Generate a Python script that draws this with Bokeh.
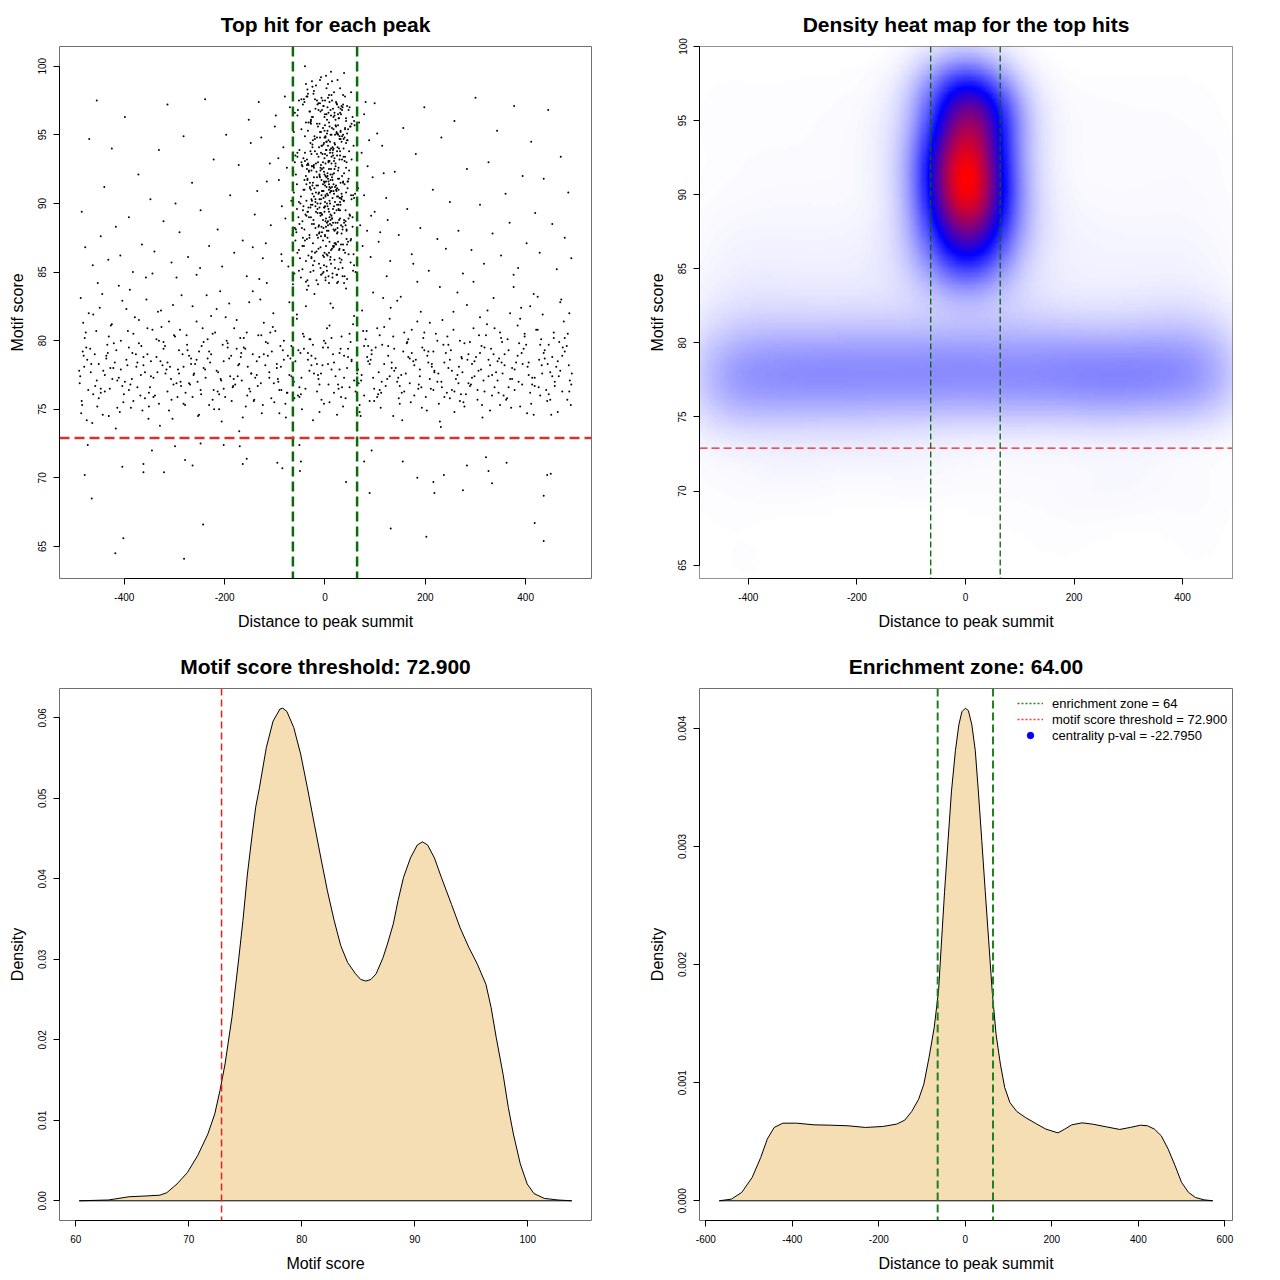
import numpy as np
from bokeh.plotting import figure
from bokeh.layouts import gridplot
from bokeh.models import (Range1d, FixedTicker, CustomJSTickFormatter, Span,
                          Legend, LegendItem, LinearColorMapper)
from bokeh.embed import file_html
from bokeh.resources import INLINE

FONT = "Liberation Sans"
ENRICH_ZONE = 64
SCORE_THRESHOLD = 72.9

# ---------------- scatter data (distance to summit, motif score) ----------------
# background band of hits (set 1)
bg_x = [
    -490, -484, -477, -481, -472, -487, -475,
    -468, -455, -462, -451, -466, -458, -453,
    -447, -436, -443, -431, -439, -449, -433,
    -428, -414, -421, -411, -425, -417, -429,
    -407, -393, -401, -396, -409, -391, -404,
    -388, -374, -382, -371, -385, -377, -389,
    -366, -352, -359, -368, -354, -362, -351,
    -347, -333, -342, -336, -349, -331, -344,
    -328, -314, -322, -311, -326, -318, -329,
    -306, -293, -301, -309, -296, -303, -291,
    -288, -275, -282, -271, -286, -278, -289,
    -267, -253, -261, -256, -269, -251, -264,
    -248, -234, -242, -231, -246, -238, -249,
    -227, -213, -221, -216, -229, -211, -224,
    -208, -194, -202, -191, -206, -198, -209,
    -186, -173, -181, -189, -176, -183, -171,
    -168, -155, -162, -151, -166, -158, -169,
    -147, -133, -141, -136, -149, -131, -144,
    -128, -114, -122, -111, -126, -118, -129,
    -106, -93, -101, -109, -96, -103, -91,
    -88, -75, -82, -71, -86, -78, -89,
    -67, -53, -61, -56, -69, -51, -64,
    -48, -34, -42, -31, -46, -38, -49,
    -27, -13, -21, -16, -29, -11, -24,
    -8, 6, -2, 9, -5, 1, 7,
    13, 27, 18, 24, 11, 29, 16,
    32, 46, 38, 49, 34, 42, 31,
    53, 67, 58, 64, 51, 69, 56,
    72, 86, 78, 89, 74, 83, 71,
    93, 107, 98, 104, 91, 109, 96,
    112, 126, 118, 129, 114, 123, 111,
    133, 147, 138, 144, 131, 149, 136,
    152, 166, 158, 169, 154, 163, 151,
    173, 187, 178, 184, 171, 189, 176,
    192, 206, 198, 209, 194, 203, 191,
    213, 227, 218, 224, 211, 229, 216,
    232, 246, 238, 249, 234, 243, 231,
    253, 267, 258, 264, 251, 269, 256,
    272, 286, 278, 289, 274, 283, 271,
    293, 307, 298, 304, 291, 309, 296,
    312, 326, 318, 329, 314, 323, 311,
    333, 347, 338, 344, 331, 349, 336,
    352, 366, 358, 369, 354, 363, 351,
    373, 387, 378, 384, 371, 389, 376,
    392, 406, 398, 409, 394, 403, 391,
    413, 427, 418, 424, 411, 429, 416,
    432, 446, 438, 449, 434, 443, 431,
    453, 467, 458, 464, 451, 469, 456,
    473, 487, 478, 492, 474, 483, 471,
]
bg_y = [
    77.8, 75.3, 80.6, 78.9, 76.4, 83.1, 74.2,
    79.4, 77.1, 81.9, 75.8, 78.3, 76.7, 84.2,
    76.2, 78.7, 74.6, 80.3, 77.5, 82.4, 79.1,
    78.0, 75.1, 79.8, 77.3, 81.2, 73.6, 76.5,
    77.9, 80.7, 76.1, 78.6, 74.8, 79.5, 82.9,
    76.8, 78.4, 75.6, 81.5, 77.2, 79.0, 83.7,
    79.6, 74.3, 77.7, 76.0, 80.9, 78.2, 75.2,
    77.4, 82.1, 75.9, 78.8, 76.6, 80.0, 84.9,
    78.5, 76.3, 79.9, 74.9, 81.0, 77.6, 73.8,
    75.7, 77.9, 80.4, 78.1, 76.9, 82.6, 79.3,
    77.0, 79.7, 75.4, 78.9, 83.3, 76.2, 80.8,
    78.3, 74.5, 77.6, 81.4, 76.8, 79.2, 75.9,
    76.4, 80.1, 78.0, 75.3, 79.6, 77.3, 85.3,
    79.0, 77.7, 75.0, 82.3, 78.4, 76.1, 80.5,
    77.2, 79.8, 76.5, 78.7, 74.1, 81.7, 83.6,
    75.6, 78.2, 80.9, 77.4, 79.4, 76.7, 73.4,
    78.8, 76.0, 79.5, 82.8, 77.1, 75.2, 80.2,
    77.6, 80.4, 75.7, 78.5, 76.3, 84.5, 79.0,
    76.9, 78.9, 81.3, 77.3, 74.7, 79.9, 83.0,
    79.2, 77.0, 75.5, 80.6, 78.3, 82.0, 76.4,
    78.1, 76.2, 80.0, 77.5, 85.8, 74.4, 79.6,
    77.4, 79.3, 75.8, 81.6, 78.7, 76.6, 84.1,
    76.1, 78.6, 80.3, 77.8, 75.0, 82.5, 79.1,
    78.9, 77.2, 83.4, 76.3, 80.1, 74.8, 79.7,
    77.6, 79.5, 75.4, 81.1, 78.2, 84.4, 76.8,
    80.2, 76.5, 78.4, 74.6, 82.7, 77.9, 79.0,
    75.9, 78.8, 77.3, 80.5, 76.6, 83.8, 79.4,
    78.5, 76.9, 81.8, 77.6, 79.9, 75.3, 85.1,
    77.1, 79.6, 76.0, 78.3, 82.2, 80.7, 74.5,
    79.3, 77.7, 75.6, 80.9, 78.6, 76.4, 83.5,
    76.2, 78.9, 81.0, 77.4, 79.7, 84.7, 75.1,
    78.0, 75.8, 79.4, 77.0, 82.4, 76.7, 80.3,
    77.5, 80.1, 76.3, 78.7, 74.2, 79.8, 83.2,
    79.1, 76.8, 78.2, 81.4, 75.5, 77.9, 85.6,
    76.6, 78.4, 80.6, 77.2, 79.5, 74.9, 82.1,
    78.3, 75.4, 77.8, 80.0, 76.5, 83.9, 79.2,
    77.0, 79.7, 75.9, 78.6, 81.5, 76.2, 73.7,
    76.4, 78.1, 74.8, 77.5, 79.3, 75.6, 80.8,
    78.8, 76.9, 75.2, 79.9, 77.7, 82.6, 76.1,
    77.3, 80.4, 78.5, 75.7, 76.8, 79.1, 84.3,
    79.6, 77.4, 76.3, 78.2, 74.4, 81.2, 77.9,
    76.0, 78.7, 80.9, 77.1, 79.4, 75.3, 83.1,
    78.4, 76.6, 79.0, 82.0, 77.6, 75.8, 80.2,
    77.2, 79.8, 76.4, 78.9, 75.1, 81.6, 84.8,
    79.1, 77.5, 80.5, 76.2, 78.3, 74.7, 82.4,
    76.8, 78.6, 77.3, 80.8, 75.4, 79.7, 83.4,
    78.2, 76.1, 79.3, 77.7, 81.9, 75.6, 80.1,
    77.4, 79.9, 76.7, 78.5, 74.6, 82.8, 80.6,
    78.9, 76.3, 80.2, 77.6, 79.5, 75.7, 83.0,
]
# background band of hits (set 2)
bg2_x = [
    -489, -483, -486, -480, -482, -488, -485,
    -474, -462, -479, -467, -464, -471, -476,
    -454, -442, -459, -447, -444, -451, -456,
    -434, -422, -439, -427, -424, -431, -436,
    -414, -402, -419, -407, -404, -411, -416,
    -394, -382, -399, -387, -384, -391, -396,
    -374, -362, -379, -367, -364, -371, -376,
    -354, -342, -359, -347, -344, -351, -356,
    -334, -322, -339, -327, -324, -331, -336,
    -314, -302, -319, -307, -304, -311, -316,
    -294, -282, -299, -287, -284, -291, -296,
    -274, -262, -279, -267, -264, -271, -276,
    -254, -242, -259, -247, -244, -251, -256,
    -234, -222, -239, -227, -224, -231, -236,
    -214, -202, -219, -207, -204, -211, -216,
    -194, -182, -199, -187, -184, -191, -196,
    -174, -162, -179, -167, -164, -171, -176,
    -154, -142, -159, -147, -144, -151, -156,
    -134, -122, -139, -127, -124, -131, -136,
    -114, -102, -119, -107, -104, -111, -116,
    -94, -82, -99, -87, -84, -91, -96,
    -74, -62, -79, -67, -64, -71, -76,
    -54, -42, -59, -47, -44, -51, -56,
    -34, -22, -39, -27, -24, -31, -36,
    -14, -2, -19, -7, -4, -11, -16,
    6, 18, 1, 13, 16, 9, 4,
    26, 38, 21, 33, 36, 29, 24,
    46, 58, 41, 53, 56, 49, 44,
    66, 78, 61, 73, 76, 69, 64,
    86, 98, 81, 93, 96, 89, 84,
    106, 118, 101, 113, 116, 109, 104,
    126, 138, 121, 133, 136, 129, 124,
    146, 158, 141, 153, 156, 149, 144,
    166, 178, 161, 173, 176, 169, 164,
    186, 198, 181, 193, 196, 189, 184,
    206, 218, 201, 213, 216, 209, 204,
    226, 238, 221, 233, 236, 229, 224,
    246, 258, 241, 253, 256, 249, 244,
    266, 278, 261, 273, 276, 269, 264,
    286, 298, 281, 293, 296, 289, 284,
    306, 318, 301, 313, 316, 309, 304,
    326, 338, 321, 333, 336, 329, 324,
    346, 358, 341, 353, 356, 349, 344,
    366, 378, 361, 373, 376, 369, 364,
    386, 398, 381, 393, 396, 389, 384,
    406, 418, 401, 413, 416, 409, 404,
    426, 438, 421, 433, 436, 429, 424,
    446, 458, 441, 453, 456, 449, 444,
    466, 478, 461, 473, 476, 469, 464,
    486, 491, 482, 488, 484, 490, 487,
]
bg2_y = [
    76.9, 79.2, 74.7, 78.1, 81.3, 77.4, 75.6,
    78.6, 76.1, 80.2, 77.7, 74.0, 82.0, 79.5,
    75.2, 77.8, 79.0, 76.5, 83.4, 78.3, 80.7,
    79.7, 78.0, 76.3, 81.1, 77.2, 74.5, 78.9,
    77.1, 75.5, 78.4, 80.0, 76.7, 84.0, 79.3,
    78.2, 80.5, 77.0, 75.1, 79.1, 76.4, 82.3,
    76.6, 78.8, 81.7, 77.5, 74.9, 79.8, 78.1,
    79.0, 77.3, 75.8, 78.5, 80.8, 76.2, 83.0,
    77.7, 79.4, 76.0, 82.2, 78.2, 75.4, 80.1,
    78.4, 76.8, 79.6, 77.2, 74.3, 81.4, 77.9,
    75.9, 78.1, 80.3, 76.7, 79.0, 77.6, 84.6,
    79.3, 77.5, 75.3, 78.7, 82.5, 76.9, 80.4,
    77.0, 79.9, 78.3, 76.1, 80.9, 74.6, 78.6,
    78.7, 76.4, 77.9, 81.8, 75.7, 79.2, 83.3,
    76.3, 78.5, 80.6, 77.1, 79.7, 75.0, 77.8,
    79.5, 77.2, 75.9, 78.9, 76.6, 82.7, 80.0,
    77.4, 80.2, 76.8, 79.1, 74.4, 78.3, 81.5,
    78.1, 75.6, 79.4, 77.6, 83.6, 76.5, 80.6,
    76.7, 79.0, 77.3, 80.4, 75.3, 78.8, 77.5,
    79.8, 76.9, 78.2, 75.8, 81.0, 77.7, 84.2,
    77.2, 78.6, 80.7, 76.4, 79.3, 74.7, 78.0,
    78.9, 77.0, 75.4, 79.6, 77.8, 82.8, 76.2,
    76.0, 79.4, 78.5, 77.3, 80.5, 75.9, 81.9,
    79.1, 77.6, 76.5, 78.2, 74.2, 80.1, 83.7,
    77.5, 80.0, 78.7, 75.7, 79.5, 76.8, 78.3,
    78.3, 76.2, 79.8, 77.9, 82.4, 75.5, 80.9,
    76.8, 78.9, 77.4, 80.3, 75.2, 79.1, 84.8,
    79.4, 77.1, 75.8, 78.6, 81.2, 76.6, 78.0,
    77.9, 79.6, 76.3, 77.5, 80.7, 74.8, 82.6,
    78.5, 76.5, 80.1, 79.0, 77.3, 75.6, 78.8,
    76.1, 78.3, 79.5, 77.0, 83.1, 80.4, 75.9,
    79.6, 77.8, 76.7, 78.4, 74.5, 81.6, 77.2,
    77.3, 80.6, 78.0, 76.2, 79.2, 75.4, 82.9,
    78.8, 76.0, 77.6, 80.8, 78.5, 76.9, 79.9,
    76.5, 79.3, 78.6, 75.1, 80.2, 77.4, 84.3,
    79.2, 77.7, 75.9, 78.1, 76.4, 81.3, 78.9,
    77.6, 78.4, 80.5, 76.6, 79.7, 74.1, 77.0,
    78.0, 76.3, 79.1, 77.8, 82.1, 75.8, 80.3,
    76.9, 79.8, 77.2, 78.7, 75.5, 80.0, 83.5,
    79.0, 77.4, 76.1, 78.3, 80.9, 76.7, 78.6,
    77.8, 79.5, 78.8, 75.3, 77.1, 81.7, 76.4,
    78.6, 76.6, 80.4, 77.5, 79.0, 74.9, 82.2,
    76.2, 78.2, 77.7, 79.9, 76.0, 80.6, 78.5,
    79.3, 77.9, 75.7, 78.0, 83.9, 77.2, 80.1,
    77.0, 80.3, 78.4, 76.8, 79.4, 75.2, 81.1,
    78.4, 76.7, 79.7, 77.3, 74.6, 82.5, 78.1,
    76.6, 78.7, 80.8, 77.6, 79.1, 76.0, 83.2,
    79.7, 77.0, 76.4, 78.8, 80.2, 75.7, 78.3,
    77.4, 79.2, 78.1, 76.3, 81.4, 77.8, 74.8,
    78.2, 76.8, 79.6, 77.1, 80.5, 75.3, 82.0,
]
# sparse high-scoring hits away from the summit
hi_x = [
    -485, -478, -470, -463, -455, -447, -440, -432,
    -425, -417, -408, -399, -391, -383, -372, -365,
    -357, -348, -340, -331, -322, -314, -306, -298,
    -290, -282, -273, -265, -256, -248, -239, -231,
    -222, -214, -205, -197, -189, -181, -172, -164,
    -156, -148, -140, -132, -124, -116, -108, -100,
    -93, -86, -80,
    78, 85, 92, 99, 107, 114, 122, 130,
    139, 147, 156, 164, 173, 181, 190, 198,
    207, 215, 224, 232, 241, 249, 258, 266,
    275, 283, 292, 300, 309, 317, 326, 334,
    343, 351, 360, 368, 377, 385, 394, 402,
    411, 419, 428, 436, 445, 453, 462, 470,
    478, 485, 491,
]
hi_y = [
    89.4, 86.8, 94.7, 85.5, 97.5, 87.6, 91.2, 85.9,
    94.0, 88.3, 86.2, 96.3, 89.0, 85.0, 92.1, 87.0,
    84.6, 90.3, 86.5, 93.9, 88.7, 97.2, 85.7, 90.0,
    87.9, 94.9, 86.1, 91.5, 84.8, 89.5, 97.6, 86.9,
    93.2, 88.1, 85.4, 95.0, 90.6, 86.4, 92.8, 87.3,
    84.7, 94.4, 89.2, 97.4, 86.0, 91.6, 88.4, 95.6,
    93.3, 89.8, 97.8,
    96.5, 92.7, 89.1, 97.3, 87.2, 94.2, 90.4, 85.8,
    92.3, 87.7, 95.5, 89.6, 86.3, 93.6, 88.2, 97.0,
    85.1, 91.0, 87.4, 94.8, 86.7, 90.1, 96.0, 88.0,
    84.9, 92.5, 86.6, 97.7, 89.9, 85.6, 93.0, 87.8,
    95.3, 86.2, 90.7, 88.6, 97.1, 85.3, 92.0, 87.1,
    94.5, 89.3, 86.4, 91.8, 96.8, 88.5, 85.2, 93.4,
    87.5, 90.8, 86.0,
]
# flanks of the central cluster
fl_x = [
    -98, -92, -87, -83, -79, -76, -73, -70,
    -67, -65, -62, -60, -58, -56, -54, -52,
    66, 68, 70, 73, 75, 78, 81, 84,
    88, 91, 95, 99, 104, 110, 117, 125,
    -110, -118, -127, -135, -144, -152,
]
fl_y = [
    96.4, 91.7, 86.3, 94.1, 88.9, 92.6, 85.4, 97.0,
    90.2, 87.7, 95.2, 93.0, 88.1, 91.4, 96.8, 86.6,
    91.1, 95.9, 88.4, 93.7, 86.9, 90.6, 97.4, 88.0,
    94.6, 86.1, 91.9, 89.4, 95.1, 87.9, 92.2, 88.8,
    92.9, 87.1, 94.8, 90.9, 86.8, 96.1,
]
# low-scoring hits below the threshold
lo_x = [
    -479, -473, -465, -418, -402, -404, -362, -362, -345, -321,
    -299, -279, -264, -281, -243, -248, -202, -170, -164, -156,
    -95, -85, -51, -48, -50, 42, 89, 131, 202, 184,
    216, 218, 237, 275, 283, 321, 326, 333, 362, 418,
    436, 436, 443, 450, 155, 78, 93,
]
lo_y = [
    70.2, 72.4, 68.5, 64.5, 65.6, 70.8, 71.0, 70.4, 72.0, 70.4,
    72.3, 71.3, 70.9, 64.1, 66.6, 72.5, 72.4, 72.3, 71.0, 71.4,
    71.1, 70.7, 72.4, 71.2, 70.5, 69.7, 68.9, 66.3, 65.7, 70.0,
    69.7, 68.9, 70.2, 69.1, 70.9, 71.5, 70.5, 69.6, 71.1, 66.7,
    65.4, 68.7, 70.2, 70.3, 71.2, 71.2, 72.0,
]
# central cluster of hits near the peak summit (set 1)
cl_x = [
    -38, 12, -5, 27, -21, 44, 3, -14, 19, -52, 35, -2, 8, -29, 51, 15, -9, 23,
    -33, 5, 17, -11, 40, -24, 28, 0, -45, 11, -4, 33, -17, 22, 57, -8, 14, -36,
    7, 46, -27, 2, 25, -14, 37, -1, 19, -59,
    -41, -18, 6, 24, -7, 13, 38, -29, 2, 49, -12, 18, -3, 30, -23, 9, -51, 16,
    43, -15, 4, 27, -9, 35, -34, 11, -1, 21, 55, -26, 7, 14, -6, 32, -19, 1,
    41, -46, 19,
    -37, 8, -13, 26, 0, 45, -22, 15, -5, 33, -30, 10, 20, -9, 3, 52, -17, 29,
    -2, 12, -43, 38, 6, -25, 17, -11, 24, 1, -35, 42, 9, -19, 31, -7, 14, 58,
    -28, 4, 22, -15, 36, -48, 11, -3,
    -32, 16, -8, 39, 5, -20, 27, -1, 11, -40, 21, -14, 48, 2, -26, 34, 8, -5,
    18, -55, 13, 30, -11, 43, -3, 24, -17, 7, -36, 15, 1, 37, -23, 10, -9, 53,
    19,
    -29, 9, -12, 31, 1, -38, 20, -4, 44, 13, -21, 26, -7, 5, 37, -16, 17, -47,
    3, 23, -1, 50, -25, 11, 29, -10, 7, -33, 15, 40, -2, 21,
    -24, 14, -6, 33, 4, -35, 19, -13, 42, 8, -19, 27, 0, -42, 12, 36, -9, 22,
    -28, 6, 47, -3, 17, -16, 30,
    -40, -26, -10, 12, 38, 25, 3, -18,
]
cl_y = [
    84.3, 85.6, 84.9, 85.2, 85.8, 84.5, 85.4, 84.1, 85.9, 85.1, 84.7, 85.5, 84.2, 85.0, 85.7, 84.6, 85.3, 84.8,
    86.2, 87.5, 86.8, 87.9, 86.4, 87.1, 86.6, 87.7, 86.9, 86.1, 87.3, 87.8, 86.5, 87.0, 86.3, 87.6, 86.7, 87.4,
    88.0, 87.2, 86.0, 86.9, 87.9, 87.5, 86.6, 86.4, 87.1, 87.3,
    88.1, 89.4, 88.7, 89.9, 88.3, 89.1, 88.6, 89.7, 88.9, 89.2, 88.4, 89.8, 88.2, 89.5, 88.8, 89.0, 88.5, 89.6,
    88.0, 89.3, 88.6, 89.9, 89.1, 88.3, 89.4, 88.8, 89.7, 88.1, 89.0, 88.5, 89.6, 88.9, 89.2, 88.4, 89.8, 88.7,
    89.5, 88.2, 89.3,
    90.2, 91.4, 90.7, 91.8, 90.1, 91.1, 90.5, 91.7, 90.9, 90.3, 91.5, 90.8, 91.2, 90.0, 91.9, 90.6, 91.3, 90.4,
    91.6, 90.9, 91.0, 90.2, 91.8, 90.7, 91.4, 90.3, 91.1, 90.5, 91.7, 90.8, 91.2, 90.1, 91.5, 90.6, 91.9, 90.4,
    91.0, 90.7, 91.3, 90.0, 91.6, 90.5, 91.1, 90.9,
    92.3, 93.5, 92.8, 93.1, 92.0, 93.8, 92.6, 93.3, 92.1, 93.7, 92.9, 93.0, 92.4, 93.9, 92.7, 93.2, 92.5, 93.6,
    92.2, 93.4, 92.9, 93.8, 92.1, 93.0, 92.6, 93.5, 92.3, 93.1, 92.8, 93.7, 92.0, 93.4, 92.7, 93.9, 92.4, 93.2,
    92.5,
    94.4, 95.6, 94.1, 95.2, 94.8, 95.9, 94.3, 95.5, 94.6, 95.0, 94.9, 95.7, 94.2, 95.3, 94.7, 95.8, 94.0, 95.4,
    94.5, 95.1, 94.8, 95.6, 94.3, 95.0, 94.9, 95.2, 94.6, 95.9, 94.1, 95.5, 94.4, 95.7,
    96.3, 97.5, 96.8, 97.1, 96.1, 97.8, 96.6, 97.3, 96.2, 97.9, 96.9, 97.0, 96.5, 97.6, 96.4, 97.2, 96.7, 97.4,
    96.0, 97.7, 96.8, 97.1, 96.3, 97.5, 96.6,
    100.0, 98.9, 99.0, 99.6, 99.5, 99.0, 98.4, 98.6,
]
# central cluster of hits near the peak summit (set 2)
cl2_x = [
    4, -17, 31, -8, 20, -33, 10, 1, -24, 38, -3, 15, -12, 26, -45, 7,
    -20, 9, -2, 24, -13, 36, 3, -31, 16, -6, 29, -40, 12, -16, 5, 21, -9, 43,
    -26, 0, 18, -4, 32, -12, 8, 51,
    2, -15, 19, -6, 28, -25, 10, -1, 35, -11, 14, -32, 6, 23, -19, 0, 41, -8,
    16, -37, 4, 27, -4, 11, -22, 31, -13, 8, 47, -28, 17, -2, 21, -44, 13, -10,
    25, 5,
    -3, 14, -18, 7, 30, -10, 1, 22, -27, 11, -6, 39, 4, -14, 18, -35, 9, -1,
    26, -21, 13, 46, -8, 3, 33, -16, 20, -41, 6, -4, 15, 28, -12, 0, 37, -24,
    10, -7, 24, -30, 17, 2, -19, 8,
    5, -13, 21, -4, 12, -29, 34, 0, -18, 9, 26, -8, 42, -36, 15, 3, -22, 19,
    -2, 30, -11, 7, -45, 24, -6, 13, 38, -16, 1, 18, -27, 10, -9, 29, -1, 16,
    -33, 4,
    -6, 17, -20, 4, 28, -11, 10, -34, 1, 22, -3, 36, -16, 8, -25, 14, 45, -8,
    19, 0, -40, 25, 6, -14, 31, -1, 12, -28, 3, 40, -10, 20,
    3, -15, 21, -7, 11, 35, -26, 0, 16, -10, 28, -37, 7, -3, 19, -20, 42, 9,
    -31, 13, -1, 24, -13, 5, 32, -5,
    -22, 6, 18, -8, 30, -34, 2, 14,
]
cl2_y = [
    85.1, 84.4, 85.7, 84.8, 85.3, 84.0, 85.9, 84.6, 85.5, 84.2, 85.0, 84.9, 85.6, 84.3, 85.2, 84.7,
    86.4, 87.2, 86.1, 87.8, 86.7, 87.0, 86.3, 87.5, 86.9, 87.9, 86.0, 87.3, 86.6, 87.7, 86.2, 87.1, 86.8, 87.4,
    86.5, 87.6, 86.9, 86.2, 87.0, 87.8, 86.4, 87.3,
    88.3, 89.6, 88.0, 89.2, 88.8, 89.9, 88.5, 89.4, 88.1, 89.7, 88.9, 89.0, 88.4, 89.5, 88.2, 89.8, 88.7, 89.3,
    88.6, 89.1, 88.0, 89.6, 88.8, 89.2, 88.5, 89.9, 88.3, 89.4, 88.9, 89.0, 88.1, 89.7, 88.6, 89.5, 88.4, 89.3,
    88.2, 89.8,
    90.4, 91.2, 90.8, 91.6, 90.1, 91.9, 90.6, 91.0, 90.3, 91.7, 90.9, 91.4, 90.0, 91.3, 90.7, 91.8, 90.2, 91.5,
    90.5, 91.1, 90.9, 91.6, 90.3, 91.2, 90.7, 91.9, 90.1, 91.0, 90.6, 91.4, 90.4, 91.8, 90.8, 91.3, 90.2, 91.5,
    90.0, 91.7, 90.5, 91.1, 90.9, 91.6, 90.3, 91.0,
    92.2, 93.4, 92.7, 93.0, 92.5, 93.8, 92.0, 93.6, 92.9, 93.1, 92.4, 93.7, 92.6, 93.2, 92.1, 93.9, 92.8, 93.3,
    92.3, 93.5, 92.0, 93.0, 92.7, 93.8, 92.5, 93.4, 92.2, 93.6, 92.9, 93.1, 92.4, 93.7, 92.6, 93.2, 92.1, 93.9,
    92.8, 93.5,
    94.2, 95.4, 94.7, 95.1, 94.0, 95.8, 94.5, 95.3, 94.9, 95.6, 94.3, 95.0, 94.8, 95.9, 94.1, 95.5, 94.6, 95.2,
    94.4, 95.7, 94.9, 95.1, 94.2, 95.6, 94.7, 95.3, 94.0, 95.8, 94.5, 95.4, 94.8, 95.0,
    96.5, 97.2, 96.1, 97.7, 96.8, 97.0, 96.3, 97.5, 96.9, 97.3, 96.2, 97.8, 96.6, 97.1, 96.4, 97.6, 96.0, 97.4,
    96.7, 97.9, 96.3, 97.2, 96.8, 97.0, 96.5, 97.5,
    98.2, 98.7, 98.1, 99.2, 98.4, 98.0, 99.3, 98.9,
]
# outer part of the central cluster (set 3)
cl3_x = [
    -48, 35, -27, 52, -61, 29, -38, 44, -55, 24, -31, 58, -42, 39, -23, 47,
    -57, 33, -35, 26, -50, 61, -44, 37,
    41, -33, 56, -25, 30, -52, 47, -39, 23, -60, 36, -28, 53, -45, 27, -35,
    60, -22, 43, -56, 32, -41, 25, -49, 50, -30, 38, -62, 28, -37, 55, -26,
    45, -53, 34, -43,
    -36, 48, -24, 31, -58, 40, -29, 57, -46, 26, -40, 34, -63, 51, -27, 42,
    -34, 23, -51, 37, -22, 59, -43, 29, -38, 46, -55, 25, -32, 53, -47, 33,
    -26, 44, -59, 39,
    27, -41, 52, -30, 36, -55, 44, -25, 31, -47, 58, -35, 23, -60, 40, -28,
    49, -38, 26, -52, 34, -44, 55, -23,
]
cl3_y = [
    84.6, 85.3, 86.1, 87.4, 84.9, 86.7, 85.8, 87.0, 86.4, 84.2, 87.7, 85.5, 86.9, 84.7, 85.1, 86.3,
    87.9, 85.9, 84.4, 87.2, 86.0, 85.0, 87.5, 86.6,
    88.4, 89.7, 90.6, 91.3, 88.9, 90.1, 91.8, 89.2, 90.9, 88.2, 91.5, 89.9, 90.3, 88.7, 91.0, 89.4,
    90.7, 91.9, 88.1, 89.6, 90.4, 91.7, 88.6, 90.0, 89.1, 91.2, 88.8, 90.8, 89.5, 91.4, 88.3, 90.2,
    91.6, 89.0, 90.5, 89.8,
    92.5, 93.8, 94.6, 95.3, 92.1, 93.4, 95.9, 94.2, 92.8, 95.0, 93.1, 94.9, 92.3, 95.6, 93.6, 94.4,
    92.9, 95.2, 93.9, 94.0, 92.6, 95.7, 93.3, 94.7, 92.0, 95.4, 93.7, 94.1, 92.4, 95.8, 93.0, 94.5,
    92.7, 95.1, 93.5, 94.8,
    96.2, 97.4, 98.1, 96.7, 97.9, 96.4, 97.1, 98.5, 96.9, 97.6, 96.0, 98.3, 97.3, 96.6, 97.8, 96.1,
    97.0, 98.7, 96.5, 97.5, 96.8, 97.2, 96.3, 98.0,
]

# ---------------- density of motif scores ----------------
score_grid = [
    60.3, 62.88, 64.7, 66.22, 67.44, 68.05, 68.96, 69.87, 70.78, 71.69,
    72.30, 72.76, 73.21, 73.82, 74.43, 74.79, 75.19, 75.61, 75.92, 76.25,
    76.86, 77.46, 78.07, 78.32, 78.68, 79.29, 79.90, 80.50, 81.11, 81.69,
    82.27, 82.87, 83.45, 84.06, 84.76, 85.21, 85.67, 86.12, 86.58, 87.19,
    87.58, 88.10, 88.52, 89.01, 89.62, 90.22, 90.68, 91.14, 91.74, 92.35,
    93.26, 94.02, 94.78, 95.54, 96.30, 96.76, 97.21, 97.82, 98.28, 98.73,
    99.34, 99.95, 100.55, 101.46, 102.68, 103.9,
]
score_density = [
    0, 0.0001, 0.0005, 0.0006, 0.0007, 0.0010, 0.0021, 0.0035, 0.0056, 0.0083,
    0.0108, 0.0137, 0.0170, 0.0228, 0.0302, 0.0348, 0.0406, 0.0455, 0.0489, 0.0513,
    0.0563, 0.0596, 0.0611, 0.0612, 0.0608, 0.0588, 0.0555, 0.0513, 0.0468, 0.0426,
    0.0385, 0.0348, 0.0317, 0.0296, 0.0282, 0.0275, 0.0273, 0.0275, 0.0282, 0.0302,
    0.0319, 0.0344, 0.0373, 0.0402, 0.0426, 0.0442, 0.0446, 0.0442, 0.0426, 0.0402,
    0.0368, 0.0339, 0.0315, 0.0294, 0.0269, 0.0240, 0.0203, 0.0157, 0.0116, 0.0083,
    0.0046, 0.0021, 0.0009, 0.0003, 0.0001, 0,
]

# ---------------- density of distances to summit ----------------
dist_grid = [
    -569, -541, -517, -493, -473, -458, -442, -422, -390, -350,
    -311, -271, -231, -191, -159, -140, -124, -108, -96, -84,
    -72, -62, -55, -48, -40, -32, -23, -15, -8, 0,
    7, 15, 23, 30, 38, 46, 54, 62, 71, 81,
    91, 103, 119, 139, 163, 186, 214, 230, 246, 270,
    294, 326, 357, 381, 405, 421, 437, 453, 469, 485,
    500, 516, 532, 552, 572,
]
dist_density = [
    0, 0.000014, 0.000071, 0.000197, 0.000367, 0.000522, 0.000621, 0.000657, 0.000657, 0.000643,
    0.000640, 0.000635, 0.000621, 0.000629, 0.000649, 0.000683, 0.000756, 0.000860, 0.000987, 0.001213,
    0.001467, 0.001777, 0.00220, 0.00262, 0.00305, 0.00347, 0.00381, 0.00403, 0.00414, 0.00417,
    0.00415, 0.00403, 0.00381, 0.00347, 0.00305, 0.00262, 0.00220, 0.001777, 0.00141, 0.001157,
    0.000959, 0.000832, 0.000756, 0.000705, 0.000654, 0.000607, 0.000575, 0.000607, 0.000643, 0.000660,
    0.000649, 0.000626, 0.000604, 0.000621, 0.000640, 0.000635, 0.000607, 0.000550, 0.000437, 0.000296,
    0.000155, 0.000071, 0.000028, 0.000008, 0,
]

LEGEND_LABELS = ["enrichment zone = 64", "motif score threshold = 72.900",
                 "centrality p-val = -22.7950"]

# ---------------- assemble ----------------
xs_parts = [bg_x, bg2_x, hi_x, fl_x, lo_x, cl_x, cl2_x, cl3_x]
ys_parts = [bg_y, bg2_y, hi_y, fl_y, lo_y, cl_y, cl2_y, cl3_y]
px, py = [], []
for a, b in zip(xs_parts, ys_parts):
    m = min(len(a), len(b))
    px += a[:m]
    py += b[:m]
all_x = np.array(px, dtype=float)
all_y = np.array(py, dtype=float)


def padded(lo, hi, f=0.04):
    d = (hi - lo) * f
    return Range1d(lo - d, hi + d)


def style(p, xticks, yticks, xdec, ydec, xlabel, ylabel):
    p.grid.visible = False
    p.outline_line_color = "#707070"
    p.outline_line_width = 1
    p.background_fill_color = "white"
    p.border_fill_color = "white"
    p.title.align = "center"
    p.title.text_font = FONT
    p.title.text_font_size = "21px"
    p.title.text_font_style = "bold"
    p.title.text_color = "black"
    p.title.standoff = 21
    for ax, ticks, dec in ((p.xaxis[0], xticks, xdec), (p.yaxis[0], yticks, ydec)):
        ax.ticker = FixedTicker(ticks=ticks)
        ax.formatter = CustomJSTickFormatter(code="return tick.toFixed(%d);" % dec)
        ax.bounds = (ticks[0], ticks[-1])
        ax.axis_line_color = "black"
        ax.axis_line_width = 1
        ax.major_tick_line_color = "black"
        ax.major_tick_out = 6
        ax.major_tick_in = 0
        ax.minor_tick_line_color = None
        ax.major_label_text_font = FONT
        ax.major_label_text_font_size = "10px"
        ax.major_label_text_color = "black"
        ax.axis_label_text_font = FONT
        ax.axis_label_text_font_size = "16px"
        ax.axis_label_text_font_style = "normal"
        ax.axis_label_text_color = "black"
    p.xaxis.axis_label = xlabel
    p.yaxis.axis_label = ylabel
    p.xaxis.major_label_standoff = 8
    p.xaxis.axis_label_standoff = 9
    p.yaxis.major_label_standoff = 7
    p.yaxis.axis_label_standoff = 10
    p.yaxis.major_label_orientation = "vertical"


common = dict(output_backend="svg", toolbar_location=None, width=640, height=640)

# ---- panel 1: scatter ----
p1 = figure(title="Top hit for each peak",
            x_range=padded(all_x.min(), all_x.max()),
            y_range=padded(all_y.min(), all_y.max()),
            min_border_left=59, min_border_right=49, min_border_top=46, min_border_bottom=62,
            **common)
p1.scatter(all_x, all_y, marker="circle", size=2.0, fill_color="black", line_color=None)
for loc in (-ENRICH_ZONE, ENRICH_ZONE):
    p1.add_layout(Span(location=loc, dimension="height", line_color="#0b6b0b",
                       line_width=2.5, line_dash="10 5"))
p1.add_layout(Span(location=SCORE_THRESHOLD, dimension="width", line_color="#d93030",
                   line_width=2.5, line_dash="10 5"))
style(p1, [-400, -200, 0, 200, 400], [65, 70, 75, 80, 85, 90, 95, 100], 0, 0,
      "Distance to peak summit", "Motif score")

# ---- panel 2: smoothed density heat map computed from the hits ----
x0, x1 = all_x.min(), all_x.max()
y0, y1 = all_y.min(), all_y.max()
gx = np.linspace(x0, x1, 260)
gy = np.linspace(y0, y1, 220)
bw_x, bw_y = 55.0, 1.7
Kx = np.exp(-0.5 * ((gx[:, None] - all_x[None, :]) / bw_x) ** 2)
Ky = np.exp(-0.5 * ((gy[:, None] - all_y[None, :]) / bw_y) ** 2)
dens2d = Ky @ Kx.T
shade = (dens2d / dens2d.max()) ** 1.2

pal = []
for i in range(256):
    t = i / 255.0
    if t <= 0.5:
        s = t / 0.5
        r = g = int(round(255 * (1 - s)))
        b = 255
    else:
        s = (t - 0.5) / 0.5
        r = int(round(255 * s))
        g = 0
        b = int(round(255 * (1 - s)))
    pal.append("#%02x%02x%02x" % (r, g, b))

p2 = figure(title="Density heat map for the top hits",
            x_range=Range1d(x0, x1), y_range=Range1d(y0, y1),
            min_border_left=59, min_border_right=48, min_border_top=46, min_border_bottom=62,
            **common)
mapper = LinearColorMapper(palette=pal, low=0, high=1)
p2.image(image=[shade], x=x0, y=y0, dw=x1 - x0, dh=y1 - y0, color_mapper=mapper)
for loc in (-ENRICH_ZONE, ENRICH_ZONE):
    p2.add_layout(Span(location=loc, dimension="height", line_color="#006400",
                       line_width=1.3, line_dash="6 3"))
p2.add_layout(Span(location=SCORE_THRESHOLD, dimension="width", line_color="#e02020",
                   line_width=1.2, line_dash="8 4"))
style(p2, [-400, -200, 0, 200, 400], [65, 70, 75, 80, 85, 90, 95, 100], 0, 0,
      "Distance to peak summit", "Motif score")

# ---- panel 3: motif score density ----
p3 = figure(title="Motif score threshold: 72.900",
            x_range=padded(min(score_grid), max(score_grid)),
            y_range=padded(0, max(score_density)),
            min_border_left=59, min_border_right=49, min_border_top=48, min_border_bottom=60,
            **common)
p3.patch(score_grid, score_density, fill_color="#F5DEB3", line_color="black", line_width=1)
p3.add_layout(Span(location=SCORE_THRESHOLD, dimension="height", line_color="#e82020",
                   line_width=1.5, line_dash="7 4"))
style(p3, [60, 70, 80, 90, 100], [0, 0.01, 0.02, 0.03, 0.04, 0.05, 0.06], 0, 2,
      "Motif score", "Density")

# ---- panel 4: distance density ----
p4 = figure(title="Enrichment zone: 64.00",
            x_range=padded(min(dist_grid), max(dist_grid)),
            y_range=padded(0, max(dist_density)),
            min_border_left=59, min_border_right=48, min_border_top=48, min_border_bottom=60,
            **common)
p4.patch(dist_grid, dist_density, fill_color="#F5DEB3", line_color="black", line_width=1)
for loc in (-ENRICH_ZONE, ENRICH_ZONE):
    p4.add_layout(Span(location=loc, dimension="height", line_color="#1f7f1f",
                       line_width=2, line_dash="8 4"))
style(p4, [-600, -400, -200, 0, 200, 400, 600], [0, 0.001, 0.002, 0.003, 0.004], 0, 3,
      "Distance to peak summit", "Density")

far_x, far_y = [-100000, -99999], [-1, -1]
r_zone = p4.line(far_x, far_y, line_color="#228B22", line_dash="2 2", line_width=1.4)
r_thr = p4.line(far_x, far_y, line_color="#ff3b3b", line_dash="2 2", line_width=1.4)
r_pv = p4.scatter(far_x[:1], far_y[:1], marker="circle", size=6, fill_color="blue",
                  line_color="blue")
legend = Legend(items=[LegendItem(label=LEGEND_LABELS[0], renderers=[r_zone]),
                       LegendItem(label=LEGEND_LABELS[1], renderers=[r_thr]),
                       LegendItem(label=LEGEND_LABELS[2], renderers=[r_pv])],
                location=(318, 477))
legend.label_text_font = FONT
legend.label_text_font_size = "13px"
legend.label_text_color = "black"
legend.glyph_width = 26
legend.glyph_height = 16
legend.label_height = 16
legend.label_standoff = 9
legend.spacing = 0
legend.padding = 4
legend.margin = 0
legend.border_line_color = None
legend.background_fill_alpha = 0
p4.add_layout(legend)

grid = gridplot([[p1, p2], [p3, p4]], toolbar_location=None)
open("out.html", "w").write(file_html(grid, INLINE))
